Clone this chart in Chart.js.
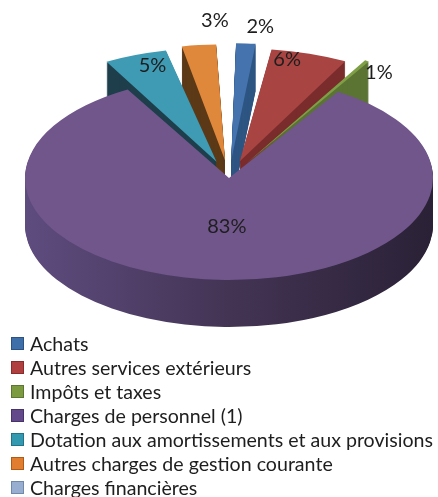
<!DOCTYPE html>
<html>
<head>
<meta charset="utf-8">
<script src="https://cdn.jsdelivr.net/npm/chart.js@4.4.0/dist/chart.umd.min.js"></script>
<style>
  html, body { margin: 0; padding: 0; background: #fff; }
  body { width: 438px; height: 497px; overflow: hidden; position: relative; font-family: Lato, 'Open Sans', sans-serif; }
  #wrap { position: absolute; left: 0; top: 0; width: 438px; height: 335px; }
  #legend { position: absolute; left: 11px; top: 331px; list-style: none; margin: 0; padding: 0; }
  #legend li { height: 24px; display: flex; align-items: center; font-size: 19.6px; color: #1e1e1e; white-space: nowrap; }
  #legend .sw { width: 11px; height: 11px; border: 1px solid; margin-right: 6px; flex: none; }
</style>
</head>
<body>
<div id="wrap"><canvas id="pieChart" width="438" height="335"></canvas></div>
<ul id="legend"></ul>
<script>
const labels = [
    'Achats',
    'Autres services extérieurs',
    'Impôts et taxes',
    'Charges de personnel (1)',
    'Dotation aux amortissements et aux provisions',
    'Autres charges de gestion courante',
    'Charges financières'
];
const values = [2, 6, 1, 83, 5, 3, 0.3];

// colours: top face, side wall, legend swatch
const faceColors = ['#4573ad', '#a84442', '#7f9f47', '#71568c', '#3f9ab3', '#df873a', '#9ab3d6'];
const wallColors = ['#2f5683', '#7a2c2c', '#5b7433', null, '#1d3e4a', '#5c3a18', '#6f87a8'];
const swatchColors = ['#3f6fa8', '#b03f3f', '#7c9a40', '#63488a', '#3399b0', '#e07d2e', '#97aed0'];
const swatchBorders = ['#2b5282', '#8a2c2c', '#5c7530', '#47336a', '#217488', '#b05a18', '#7088aa'];
const explode = [140, 140, 140, 0, 140, 140, 140];

// where the percentage labels sit (distance from centre, turn in degrees)
const labelDist = [304, 243, 258, 98, 237, 316, 0];
const labelTurn = [2.3, -4.1, 5, 0, 2, 3.9, 0];

const squash = 0.5;   // vertical tilt of the pie
const depth = 47;     // thickness in screen pixels

function wallFill(ctx, i, cx, r) {
    if (wallColors[i]) return wallColors[i];
    const g = ctx.createLinearGradient(cx - r, 0, cx + r, 0);
    g.addColorStop(0, '#5e4c7f');
    g.addColorStop(0.5, '#433454');
    g.addColorStop(1, '#2a2136');
    return g;
}

const pie3d = {
    id: 'pie3d',
    beforeDatasetsDraw(chart) {
        const ctx = chart.ctx;
        const arcs = chart.getDatasetMeta(0).data;
        const cx = arcs[0].x, cy = arcs[0].y;
        ctx.save();
        ctx.translate(cx, cy);
        ctx.scale(1, squash);
        ctx.translate(-cx, -cy);
        const fills = arcs.map((a, i) => wallFill(ctx, i, cx, a.outerRadius));
        for (let d = depth; d >= 1; d--) {
            ctx.save();
            ctx.translate(0, d / squash);
            arcs.forEach((arc, i) => {
                const orig = arc.options;
                arc.options = Object.assign({}, orig, { backgroundColor: fills[i], borderColor: fills[i], borderWidth: 0 });
                arc.draw(ctx);
                arc.options = orig;
            });
            ctx.restore();
        }
    },
    afterDatasetsDraw(chart) {
        const ctx = chart.ctx;
        ctx.restore();
        const arcs = chart.getDatasetMeta(0).data;
        const total = values.reduce((a, b) => a + b, 0);
        ctx.save();
        ctx.fillStyle = '#1e1e1e';
        ctx.font = '20px Lato, "Open Sans", sans-serif';
        ctx.textAlign = 'center';
        ctx.textBaseline = 'middle';
        arcs.forEach((arc, i) => {
            const pct = Math.round(values[i] / total * 100);
            if (pct < 1) return;
            const a = (arc.startAngle + arc.endAngle) / 2 + labelTurn[i] * Math.PI / 180;
            const px = arc.x + Math.cos(a) * labelDist[i];
            const py = arc.y + Math.sin(a) * labelDist[i] * squash;
            ctx.fillText(pct + '%', px, py);
        });
        ctx.restore();
    }
};

new Chart(document.getElementById('pieChart'), {
    type: 'pie',
    data: {
        labels: labels,
        datasets: [{
            data: values,
            backgroundColor: faceColors,
            borderWidth: 0,
            offset: explode,
            clip: false
        }]
    },
    options: {
        responsive: false,
        animation: false,
        radius: 204,
        layout: { padding: { left: 20, top: 21 } },
        plugins: {
            legend: { display: false },
            tooltip: { enabled: false }
        }
    },
    plugins: [pie3d]
});

// legend as plain list
const legendEl = document.getElementById('legend');
labels.forEach((name, i) => {
    const li = document.createElement('li');
    const sw = document.createElement('span');
    sw.className = 'sw';
    sw.style.background = swatchColors[i];
    sw.style.borderColor = swatchBorders[i];
    li.appendChild(sw);
    li.appendChild(document.createTextNode(name));
    legendEl.appendChild(li);
});
</script>
</body>
</html>
